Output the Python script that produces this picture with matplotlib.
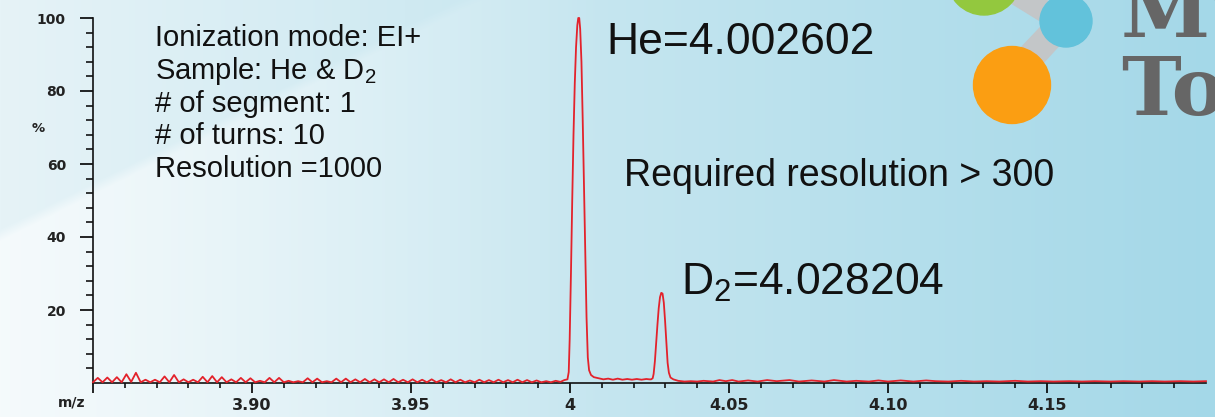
# -*- coding: utf-8 -*-
import numpy as np
import matplotlib
matplotlib.use("Agg")
import matplotlib.pyplot as plt
from matplotlib.patches import Circle, Polygon

# spectrum: m/z and relative intensity (%)
mz = [
    3.8500, 3.8515, 3.8530, 3.8545, 3.8560, 3.8575, 3.8590, 3.8605, 3.8620, 3.8635,
    3.8650, 3.8665, 3.8680, 3.8695, 3.8710, 3.8725, 3.8740, 3.8755, 3.8770, 3.8785,
    3.8800, 3.8815, 3.8830, 3.8845, 3.8860, 3.8875, 3.8890, 3.8905, 3.8920, 3.8935,
    3.8950, 3.8965, 3.8980, 3.8995, 3.9010, 3.9025, 3.9040, 3.9055, 3.9070, 3.9085,
    3.9100, 3.9115, 3.9130, 3.9145, 3.9160, 3.9175, 3.9190, 3.9205, 3.9220, 3.9235,
    3.9250, 3.9265, 3.9280, 3.9295, 3.9310, 3.9325, 3.9340, 3.9355, 3.9370, 3.9385,
    3.9400, 3.9415, 3.9430, 3.9445, 3.9460, 3.9475, 3.9490, 3.9505, 3.9520, 3.9535,
    3.9550, 3.9565, 3.9580, 3.9595, 3.9610, 3.9625, 3.9640, 3.9655, 3.9670, 3.9685,
    3.9700, 3.9715, 3.9730, 3.9745, 3.9760, 3.9775, 3.9790, 3.9805, 3.9820, 3.9835,
    3.9850, 3.9865, 3.9880, 3.9895, 3.9910, 3.9925, 3.9940, 3.9955, 3.9970, 3.9982,
    # He peak
    3.9992, 3.9996, 3.9999, 4.0003, 4.0007, 4.0011, 4.0015, 4.0019, 4.0023, 4.0026,
    4.0029, 4.0032, 4.0036, 4.0040, 4.0044, 4.0048, 4.0052, 4.0056, 4.0060, 4.0066,
    4.0075, 4.0090, 4.0105, 4.0120, 4.0135, 4.0150, 4.0165, 4.0180, 4.0195, 4.0210,
    4.0225, 4.0240, 4.0250,
    # D2 peak
    4.0255, 4.0260, 4.0263, 4.0267, 4.0271, 4.0275, 4.0279, 4.0283, 4.0287, 4.0291,
    4.0295, 4.0299, 4.0303, 4.0307, 4.0311, 4.0316, 4.0325,
    # baseline to the right
    4.0340, 4.0360, 4.0380, 4.0400, 4.0420, 4.0450, 4.0470, 4.0490, 4.0510, 4.0530,
    4.0560, 4.0590, 4.0620, 4.0650, 4.0690, 4.0720, 4.0760, 4.0800, 4.0830, 4.0870,
    4.0900, 4.0940, 4.0970, 4.1000, 4.1040, 4.1080, 4.1120, 4.1150, 4.1190, 4.1230,
    4.1270, 4.1310, 4.1350, 4.1400, 4.1440, 4.1480, 4.1520, 4.1570, 4.1610, 4.1650,
    4.1700, 4.1740, 4.1790, 4.1830, 4.1870, 4.1920, 4.1960, 4.2000,
]
intensity = [
    0.2, 1.4, 0.2, 1.5, 0.2, 1.6, 0.2, 2.4, 0.3, 2.8,
    0.2, 0.9, 0.2, 0.9, 0.2, 1.8, 0.2, 2.2, 0.2, 1.0,
    0.2, 0.9, 0.2, 1.7, 0.2, 1.9, 0.2, 1.6, 0.2, 1.0,
    0.2, 1.4, 0.2, 1.3, 0.2, 0.6, 0.2, 1.4, 0.2, 1.4,
    0.2, 0.6, 0.2, 0.5, 0.2, 1.3, 0.2, 1.2, 0.2, 0.5,
    0.2, 1.2, 0.2, 1.2, 0.2, 1.0, 0.2, 1.1, 0.2, 1.0,
    0.2, 1.0, 0.2, 1.1, 0.2, 0.9, 0.2, 1.0, 0.2, 0.9,
    0.2, 1.0, 0.2, 0.8, 0.2, 1.0, 0.2, 0.9, 0.2, 0.7,
    0.2, 0.9, 0.2, 0.8, 0.2, 0.9, 0.2, 0.8, 0.2, 0.9,
    0.2, 0.8, 0.2, 0.7, 0.2, 0.5, 0.2, 0.6, 0.3, 0.8,
    1.0, 3.0, 12.0, 30.0, 50.0, 68.0, 82.0, 92.0, 98.0, 100.0,
    100.0, 97.0, 88.0, 72.0, 54.0, 35.0, 18.0, 7.0, 3.5, 2.2,
    1.6, 1.3, 1.0, 1.2, 0.9, 1.2, 0.9, 1.1, 0.9, 1.1,
    0.9, 1.1, 1.0,
    1.0, 1.3, 2.5, 6.0, 11.0, 16.0, 20.5, 23.5, 24.7, 24.5,
    22.0, 17.0, 11.0, 5.5, 2.8, 1.5, 1.0,
    0.6, 0.4, 0.5, 0.4, 0.6, 0.4, 0.8, 0.5, 0.8, 0.4,
    0.7, 0.4, 0.8, 0.5, 0.8, 0.4, 0.7, 0.4, 0.8, 0.4,
    0.6, 0.4, 0.7, 0.4, 0.7, 0.4, 0.7, 0.5, 0.4, 0.6,
    0.4, 0.5, 0.4, 0.6, 0.4, 0.5, 0.4, 0.5, 0.4, 0.5,
    0.4, 0.5, 0.4, 0.5, 0.4, 0.5, 0.4, 0.5,
]

xticks_major = [3.85, 3.90, 3.95, 4.00, 4.05, 4.10, 4.15]
xtick_labels = ['', '3.90', '3.95', '4', '4.05', '4.10', '4.15']
yticks_major = [20, 40, 60, 80, 100]

info_lines = ['Ionization mode: EI+', r'Sample: He & $\mathregular{D_2}$',
              '# of segment: 1', '# of turns: 10', 'Resolution =1000']
he_label = 'He=4.002602'
d2_label = r'$\mathregular{D_2}$=4.028204'
req_label = 'Required resolution > 300'

plt.rcParams['font.family'] = ['Liberation Sans', 'DejaVu Sans']
plt.rcParams['mathtext.fontset'] = 'custom'
plt.rcParams['mathtext.rm'] = 'Liberation Sans'

W, H = 1215, 417
fig = plt.figure(figsize=(W / 100, H / 100), dpi=100)

# background: pale blue gradient with a lighter swoosh on the left
bg = fig.add_axes([0, 0, 1, 1], zorder=-1)
xx, yy = np.meshgrid(np.arange(W), np.arange(H))
t = (xx / (W - 1))[..., None]
c_left = np.array([0xe6, 0xf3, 0xf7]) / 255
c_right = np.array([0xa4, 0xd8, 0xe8]) / 255
img = c_left + (c_right - c_left) * t
yb = 235 * (1 - xx / 470)
s = np.clip((yy - yb) / 12 + 0.5, 0, 1)
w = (s * 0.6 * np.clip(1 - xx / 600, 0, 1))[..., None]
img = img * (1 - w) + w
bg.imshow(img, extent=[0, W, H, 0], aspect='auto', interpolation='bilinear')
bg.set_xlim(0, W)
bg.set_ylim(H, 0)
bg.axis('off')

# logo in the top right corner (cut by the edge, as in the source)
bg.add_patch(Polygon([[1000, 70], [1022, 86], [1075, 28], [1055, 12]], closed=True,
                     color='#c3c6c8', zorder=1))
bg.add_patch(Polygon([[990, -10], [1005, -25], [1070, 15], [1055, 30]], closed=True,
                     color='#c3c6c8', zorder=1))
bg.add_patch(Circle((984, -22), 37, color='#93c83e', zorder=2))
bg.add_patch(Circle((1066, 21), 26, color='#62c2db', zorder=2))
bg.add_patch(Circle((1012, 85), 38.5, color='#fb9e12', zorder=2))
bg.text(1121, 37, 'MS', fontsize=58, family='DejaVu Serif', weight='bold',
        color='#666666', va='baseline', ha='left')
bg.text(1121, 115, 'To', fontsize=58, family='DejaVu Serif', weight='bold',
        color='#666666', va='baseline', ha='left')

# annotations
info_baselines = [46, 79, 112, 144.5, 177]
for line, yb_ in zip(info_lines, info_baselines):
    bg.text(155, yb_, line, fontsize=21, color='#111111', va='baseline', ha='left')
bg.text(606, 54, he_label, fontsize=32, color='#111111', va='baseline', ha='left')
bg.text(624, 186, req_label, fontsize=27, color='#111111', va='baseline', ha='left')
bg.text(681, 295, d2_label, fontsize=32, color='#111111', va='baseline', ha='left')
bg.text(38, 128, '%', fontsize=9.5, family='DejaVu Sans', weight='bold',
        color='#222222', ha='center', va='center')
bg.text(72, 402, 'm/z', fontsize=10, family='DejaVu Sans', weight='bold',
        color='#222222', ha='center', va='center')

# spectrum axes
ax = fig.add_axes([93 / W, 34 / H, 1113 / W, 365 / H])
ax.patch.set_alpha(0)
ax.plot(mz, intensity, color='#e3222b', linewidth=1.3, clip_on=False, zorder=3)
ax.set_xlim(3.85, 4.20)
ax.set_ylim(0, 100)

ax.spines['top'].set_visible(False)
ax.spines['right'].set_visible(False)
for side in ['left', 'bottom']:
    ax.spines[side].set_linewidth(1.2)
    ax.spines[side].set_color('#111111')

ax.set_xticks(xticks_major)
ax.set_xticklabels(xtick_labels)
ax.set_xticks([round(3.85 + 0.01 * i, 2) for i in range(1, 35) if i % 5], minor=True)
ax.set_yticks(yticks_major)
ax.set_yticks([v for v in range(4, 100, 4) if v % 20], minor=True)

ax.tick_params(axis='x', which='major', length=7, width=1.2, pad=4, direction='out')
ax.tick_params(axis='x', which='minor', length=3.5, width=1.1, direction='out')
ax.tick_params(axis='y', which='major', length=9.5, width=1.2, pad=10, direction='out')
ax.tick_params(axis='y', which='minor', length=5, width=1.1, direction='out')
for lab in ax.get_xticklabels():
    lab.set_family('DejaVu Sans')
    lab.set_weight('bold')
    lab.set_fontsize(11.5)
    lab.set_color('#222222')
for lab in ax.get_yticklabels():
    lab.set_family('DejaVu Sans')
    lab.set_weight('bold')
    lab.set_fontsize(10)
    lab.set_color('#222222')

fig.savefig('out.png', dpi=100)
